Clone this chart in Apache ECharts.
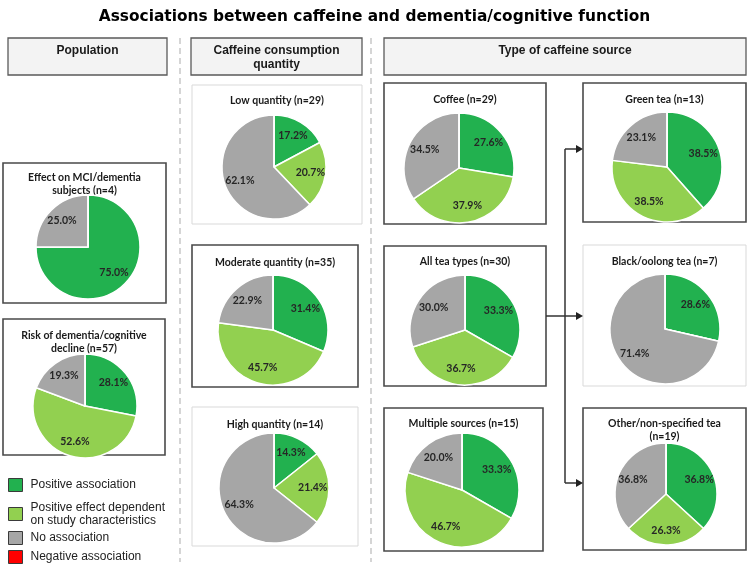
<!DOCTYPE html>
<html>
<head>
<meta charset="utf-8">
<script src="https://cdn.jsdelivr.net/npm/echarts@6/dist/echarts.min.js"></script>
<style>html,body{margin:0;background:#fff}#main{width:749px;height:565px}</style>
</head>
<body>
<div id="main"></div>
<script>
// categories and shares (%) per panel
var categories = ['Positive association', 'Positive effect dependent on study characteristics', 'No association', 'Negative association'];
var colors = ['#22b14f', '#92d050', '#a6a6a6', '#ff0000'];

var effectMci = [75.0, 0, 25.0, 0];
var riskDementia = [28.1, 52.6, 19.3, 0];
var lowQuantity = [17.2, 20.7, 62.1, 0];
var moderateQuantity = [31.4, 45.7, 22.9, 0];
var highQuantity = [14.3, 21.4, 64.3, 0];
var coffee = [27.6, 37.9, 34.5, 0];
var allTea = [33.3, 36.7, 30.0, 0];
var multipleSources = [33.3, 46.7, 20.0, 0];
var greenTea = [38.5, 38.5, 23.1, 0];
var blackTea = [28.6, 0, 71.4, 0];
var otherTea = [36.8, 26.3, 36.8, 0];

var chart = echarts.init(document.getElementById('main'));

var panels = [
    {title: 'Effect on MCI/dementia\nsubjects (n=4)', values: effectMci, box: [3, 163, 163, 140], c: [88, 247], r: 52, dark: true, ty: 171},
    {title: 'Risk of dementia/cognitive\ndecline (n=57)', values: riskDementia, box: [3, 319, 162, 136], c: [85, 406], r: 52, dark: true, ty: 329},
    {title: 'Low quantity (n=29)', values: lowQuantity, box: [192, 85, 170, 139], c: [274, 167], r: 52, dark: false, ty: 94},
    {title: 'Moderate quantity (n=35)', values: moderateQuantity, box: [192, 245, 166, 142], c: [273, 330], r: 55, dark: true, ty: 256},
    {title: 'High quantity (n=14)', values: highQuantity, box: [192, 407, 166, 139], c: [274, 488], r: 55, dark: false, ty: 418},
    {title: 'Coffee (n=29)', values: coffee, box: [384, 83, 162, 141], c: [459, 168], r: 55, dark: true, ty: 93},
    {title: 'All tea types (n=30)', values: allTea, box: [384, 246, 162, 140], c: [465, 330], r: 55, dark: true, ty: 255},
    {title: 'Multiple sources (n=15)', values: multipleSources, box: [384, 408, 159, 143], c: [462, 490], r: 57, dark: true, ty: 417},
    {title: 'Green tea (n=13)', values: greenTea, box: [583, 83, 163, 139], c: [667, 167], r: 55, dark: true, ty: 93},
    {title: 'Black/oolong tea (n=7)', values: blackTea, box: [583, 245, 163, 141], c: [665, 329], r: 55, dark: false, ty: 255},
    {title: 'Other/non-specified tea\n(n=19)', values: otherTea, box: [583, 408, 163, 142], c: [666, 494], r: 51, dark: true, ty: 417}
];

var graphics = [];
var headers = [
    {text: 'Population', x: 8, w: 159},
    {text: 'Caffeine consumption\nquantity', x: 191, w: 171},
    {text: 'Type of caffeine source', x: 384, w: 362}
];
headers.forEach(function (h) {
    graphics.push({
        type: 'rect', shape: {x: h.x, y: 38, width: h.w, height: 37},
        style: {fill: '#f3f3f3', stroke: '#5a5a5a', lineWidth: 1.3}
    });
    graphics.push({
        type: 'text', x: h.x + h.w / 2, y: 44,
        style: {text: h.text, textAlign: 'center', textVerticalAlign: 'top', font: 'bold 12px "Liberation Sans"', fill: '#1a1a1a', lineHeight: 14}
    });
});

[180, 371].forEach(function (x) {
    graphics.push({
        type: 'line', shape: {x1: x, y1: 38, x2: x, y2: 562},
        style: {stroke: '#c8c8c8', lineWidth: 1.5, lineDash: [6, 4]}
    });
});

panels.forEach(function (p) {
    graphics.push({
        type: 'rect', shape: {x: p.box[0], y: p.box[1], width: p.box[2], height: p.box[3]},
        style: {fill: '#fff', stroke: p.dark ? '#4a4a4a' : '#d9d9d9', lineWidth: p.dark ? 1.6 : 1}
    });
    graphics.push({
        type: 'text', x: p.box[0] + p.box[2] / 2, y: p.ty,
        style: {text: p.title, textAlign: 'center', textVerticalAlign: 'top', font: 'bold 10.5px Lato', fill: '#1a1a1a', lineHeight: 13}
    });
});

// connector arrows from "All tea types" to the tea sub-panels
graphics.push({type: 'polyline', shape: {points: [[565, 149], [565, 483]]}, style: {stroke: '#333', lineWidth: 1.5, fill: null}});
[[565, 149], [546, 316], [565, 483]].forEach(function (a) {
    graphics.push({type: 'line', shape: {x1: a[0], y1: a[1], x2: 578, y2: a[1]}, style: {stroke: '#333', lineWidth: 1.5}});
    graphics.push({type: 'polygon', shape: {points: [[576, a[1] - 4], [583, a[1]], [576, a[1] + 4]]}, style: {fill: '#222'}});
});

var series = [];
panels.forEach(function (p) {
    var data = categories.map(function (n, i) {
        return {name: n, value: p.values[i], itemStyle: {color: colors[i]}};
    });
    series.push({
        type: 'pie', center: p.c, radius: p.r, startAngle: 90, clockwise: true,
        data: data, silent: true,
        itemStyle: {borderColor: '#fff', borderWidth: 1.5},
        label: {show: false}, labelLine: {show: false}
    });
    series.push({
        type: 'pie', center: p.c, radius: [p.r * 0.3, p.r], startAngle: 90, clockwise: true,
        data: data.map(function (d) { return {name: d.name, value: d.value}; }),
        silent: true,
        itemStyle: {color: 'rgba(0,0,0,0)', borderWidth: 0},
        label: {
            show: true, position: 'inside',
            formatter: function (v) { return v.value > 0 ? v.value.toFixed(1) + '%' : ''; },
            fontFamily: 'Lato', fontSize: 10.5, fontWeight: 'bold', color: '#262626'
        },
        labelLine: {show: false}
    });
});

function legendPart(names, top, gap) {
    return {
        orient: 'vertical', left: 8, top: top, padding: 0,
        itemWidth: 14, itemHeight: 13, itemGap: gap, icon: 'rect',
        selectedMode: false,
        data: names,
        itemStyle: {borderColor: '#3a3a3a', borderWidth: 1},
        textStyle: {fontFamily: 'Liberation Sans', fontSize: 12, color: '#222', lineHeight: 13, padding: [0, 0, 0, 3]},
        formatter: function (n) {
            return n === categories[1] ? 'Positive effect dependent\non study characteristics' : n;
        }
    };
}

var option = {
    animation: false,
    title: {
        text: 'Associations between caffeine and dementia/cognitive function',
        left: 'center', top: 4,
        textStyle: {fontFamily: 'DejaVu Sans', fontSize: 15.4, fontWeight: 'bold', color: '#000'}
    },
    legend: [
        legendPart(categories.slice(0, 2), 478, 9),
        legendPart(categories.slice(2, 4), 531, 5)
    ],
    graphic: graphics,
    series: series
};

chart.setOption(option);
</script>
</body>
</html>
